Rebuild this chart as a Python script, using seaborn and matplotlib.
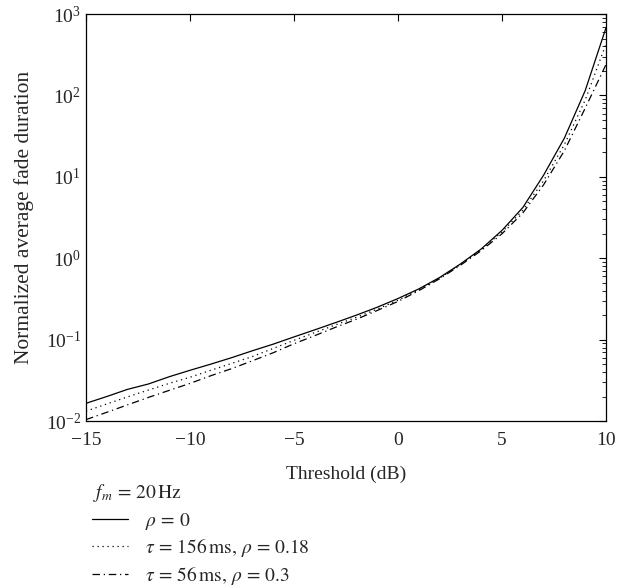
import matplotlib
matplotlib.use("Agg")
import matplotlib.pyplot as plt
import seaborn as sns
import numpy as np
import pandas as pd
from matplotlib.ticker import LogLocator, NullFormatter

# threshold in dB
threshold = list(range(-15, 11))

# rho = 0
afd_rho0 = [0.0165, 0.020, 0.0245, 0.0285, 0.035, 0.042, 0.050, 0.060, 0.073, 0.088,
            0.108, 0.132, 0.162, 0.200, 0.250, 0.320, 0.42, 0.58, 0.85, 1.30,
            2.2, 4.2, 10.5, 30, 115, 680]
# tau = 156 ms, rho = 0.18
afd_tau156 = [0.0132, 0.0162, 0.0198, 0.024, 0.029, 0.0345, 0.042, 0.051, 0.062, 0.078,
              0.098, 0.122, 0.152, 0.188, 0.237, 0.305, 0.41, 0.57, 0.84, 1.28,
              2.1, 3.9, 9.0, 25, 88, 430]
# tau = 56 ms, rho = 0.3
afd_tau56 = [0.0104, 0.0128, 0.0158, 0.0195, 0.0238, 0.029, 0.036, 0.044, 0.055, 0.069,
             0.089, 0.112, 0.142, 0.178, 0.228, 0.295, 0.40, 0.56, 0.82, 1.24,
             2.0, 3.6, 8.0, 21, 70, 240]

labels = [r"$\rho\,=\,0$",
          r"$\tau\,=\,156\,\mathrm{ms},\,\rho\,=\,0.18$",
          r"$\tau\,=\,56\,\mathrm{ms},\,\rho\,=\,0.3$"]

df = pd.concat([
    pd.DataFrame({"thr": threshold, "afd": afd_rho0, "case": labels[0]}),
    pd.DataFrame({"thr": threshold, "afd": afd_tau156, "case": labels[1]}),
    pd.DataFrame({"thr": threshold, "afd": afd_tau56, "case": labels[2]}),
])

sns.set_style("white")
plt.rcParams['font.family'] = ['Liberation Serif', 'DejaVu Serif']
plt.rcParams['mathtext.fontset'] = 'stix'

fig = plt.figure(figsize=(6.17, 5.88), dpi=100)
ax = fig.add_axes([0.1394, 0.284, 0.8428, 0.692])

dash_map = {labels[0]: "", labels[1]: (1, 3), labels[2]: (6, 3, 1, 3)}
sns.lineplot(data=df, x="thr", y="afd", style="case", dashes=dash_map,
             color="k", linewidth=0.9, legend=False, ax=ax)

ax.set_yscale("log")
ax.set_xlim(-15, 10)
ax.set_ylim(1e-2, 1e3)
ax.set_xticks([-15, -10, -5, 0, 5, 10])
ax.set_xticklabels(["\u221215", "\u221210", "\u22125", "0", "5", "10"])
ax.yaxis.set_major_locator(LogLocator(base=10, numticks=10))
ax.yaxis.set_minor_locator(LogLocator(base=10, subs=np.arange(2, 10), numticks=20))
ax.yaxis.set_minor_formatter(NullFormatter())
ax.tick_params(which="both", direction="in", top=True, right=True, labelsize=14, color="k")
ax.tick_params(axis="x", pad=8)
ax.tick_params(which="major", length=5, width=0.8)
ax.tick_params(which="minor", length=3, width=0.6)
for s in ax.spines.values():
    s.set_color("k")
    s.set_linewidth(0.9)

ax.set_xlabel("Threshold (dB)", fontsize=14, labelpad=12)
ax.set_ylabel("Normalized average fade duration", fontsize=15.5, labelpad=8.5)

# legend header
fig.text(0.1507, 0.1616, r"$f_m\,=\,20\,\mathrm{Hz}$", fontsize=14, va="center", ha="left")

handles = ax.get_lines()[:3]
leg = fig.legend(handles, labels, loc="upper left",
                 bbox_to_anchor=(0.149, 0.131), frameon=False, fontsize=14,
                 handlelength=1.85, handletextpad=0.9,
                 labelspacing=0.22, borderpad=0, borderaxespad=0)

fig.savefig("out.png", dpi=100)
